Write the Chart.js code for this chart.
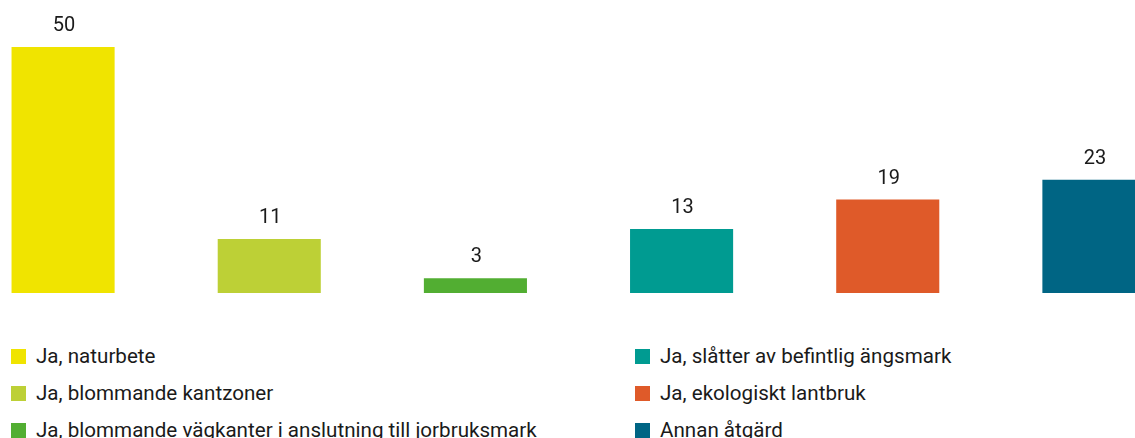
<!DOCTYPE html>
<html lang="sv">
<head>
<meta charset="utf-8">
<script src="https://cdn.jsdelivr.net/npm/chart.js@4/dist/chart.umd.min.js"></script>
<style>
  html, body { margin: 0; padding: 0; background: #fff; overflow: hidden; width: 1135px; height: 438px; }
  #wrap { position: absolute; left: -40px; top: 0; width: 1237px; height: 293px; }
  #legend { position: absolute; top: 0; left: 0; width: 1135px; font-family: Roboto, sans-serif; font-size: 20.6px; color: #1a1a1a; }
  .item { position: absolute; display: flex; align-items: center; white-space: nowrap; height: 22px; }
  .box { width: 15px; height: 15px; margin-right: 10px; flex: none; }
</style>
</head>
<body>
<div id="wrap"><canvas id="chart" width="1237" height="293"></canvas></div>
<div id="legend"></div>
<script>
// Chart data
const categories = [
  'Ja, naturbete',
  'Ja, blommande kantzoner',
  'Ja, blommande vägkanter i anslutning till jorbruksmark',
  'Ja, slåtter av befintlig ängsmark',
  'Ja, ekologiskt lantbruk',
  'Annan åtgärd'
];
const values = [50, 11, 3, 13, 19, 23];
const colors = ['#f0e400', '#bdd036', '#52ae32', '#009b91', '#df5a29', '#006584'];

// Draw the value above each bar
const valueLabels = {
  id: 'valueLabels',
  afterDatasetsDraw(chart) {
    const ctx = chart.ctx;
    const meta = chart.getDatasetMeta(0);
    ctx.save();
    ctx.font = '20px Roboto, sans-serif';
    ctx.fillStyle = '#1a1a1a';
    ctx.textAlign = 'center';
    ctx.textBaseline = 'alphabetic';
    meta.data.forEach((bar, i) => {
      ctx.fillText(String(values[i]), bar.x + 1, bar.y - 16);
    });
    ctx.restore();
  }
};

new Chart(document.getElementById('chart').getContext('2d'), {
  type: 'bar',
  data: {
    labels: categories,
    datasets: [{
      data: values,
      backgroundColor: colors,
      borderWidth: 0,
      barPercentage: 0.5,
      categoryPercentage: 1
    }]
  },
  options: {
    responsive: false,
    animation: false,
    layout: { padding: { top: 47, left: 0, right: 0, bottom: 0 } },
    plugins: { legend: { display: false }, tooltip: { enabled: false } },
    scales: {
      x: { display: false },
      y: { display: false, min: 0, max: 50 }
    }
  },
  plugins: [valueLabels]
});

// Legend in two columns, three rows each
const legendEl = document.getElementById('legend');
const colLeft = [11, 635];
const rowTop = [345, 382, 419];
categories.forEach((name, i) => {
  const col = Math.floor(i / 3);
  const row = i % 3;
  const item = document.createElement('div');
  item.className = 'item';
  item.style.left = colLeft[col] + 'px';
  item.style.top = rowTop[row] + 'px';
  item.innerHTML = '<span class="box" style="background:' + colors[i] + '"></span><span>' + name + '</span>';
  legendEl.appendChild(item);
});
</script>
</body>
</html>
